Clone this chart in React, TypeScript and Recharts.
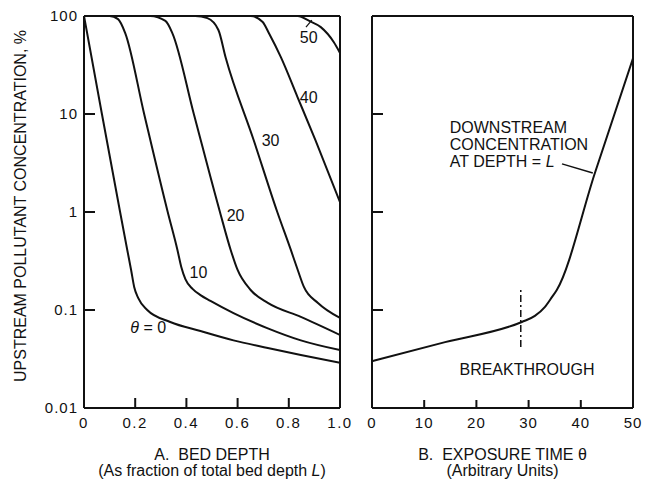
import React from "react";
import { LineChart, Line, XAxis, YAxis, ReferenceLine, ReferenceDot } from "recharts";

const FONT = "'Liberation Sans', Arial, Helvetica, sans-serif";
const INK = "#111";

// axes
const depthTicks = [0, 0.2, 0.4, 0.6, 0.8, 1.0];
const depthTickLabels = ["0", "0.2", "0.4", "0.6", "0.8", "1.0"];
const timeTicks = [0, 10, 20, 30, 40, 50];
const timeTickLabels = ["0", "10", "20", "30", "40", "50"];
const concTicks = [0.01, 0.1, 1, 10, 100];
const concTickLabels = ["0.01", "0.1", "1", "10", "100"];

type Pt = { x: number; y: number };

// panel A: upstream concentration vs bed depth, one curve per exposure time
const theta0: Pt[] = [
  { x: 0, y: 100 }, { x: 0.07, y: 10 }, { x: 0.141, y: 1 }, { x: 0.169, y: 0.41 },
  { x: 0.184, y: 0.256 }, { x: 0.196, y: 0.172 }, { x: 0.212, y: 0.132 }, { x: 0.247, y: 0.1 },
  { x: 0.337, y: 0.0755 }, { x: 0.455, y: 0.061 }, { x: 0.584, y: 0.049 }, { x: 0.718, y: 0.041 },
  { x: 0.847, y: 0.0348 }, { x: 1.0, y: 0.029 },
];
const theta10: Pt[] = [
  { x: 0, y: 100 }, { x: 0.1, y: 100 }, { x: 0.133, y: 93 }, { x: 0.161, y: 67 },
  { x: 0.235, y: 10 }, { x: 0.327, y: 1 }, { x: 0.365, y: 0.41 }, { x: 0.38, y: 0.275 },
  { x: 0.396, y: 0.207 }, { x: 0.424, y: 0.164 }, { x: 0.455, y: 0.142 }, { x: 0.494, y: 0.124 },
  { x: 0.584, y: 0.093 }, { x: 0.718, y: 0.065 }, { x: 0.847, y: 0.049 }, { x: 1.0, y: 0.039 },
];
const theta20: Pt[] = [
  { x: 0, y: 100 }, { x: 0.259, y: 100 }, { x: 0.318, y: 89 }, { x: 0.345, y: 67 },
  { x: 0.429, y: 10 }, { x: 0.531, y: 1 }, { x: 0.573, y: 0.41 }, { x: 0.6, y: 0.256 },
  { x: 0.651, y: 0.16 }, { x: 0.718, y: 0.118 }, { x: 0.847, y: 0.085 }, { x: 1.0, y: 0.0556 },
];
const theta30: Pt[] = [
  { x: 0, y: 100 }, { x: 0.435, y: 100 }, { x: 0.482, y: 95 }, { x: 0.525, y: 72 },
  { x: 0.553, y: 38 }, { x: 0.663, y: 5.4 }, { x: 0.755, y: 1 }, { x: 0.808, y: 0.41 },
  { x: 0.835, y: 0.256 }, { x: 0.859, y: 0.172 }, { x: 0.914, y: 0.118 }, { x: 1.0, y: 0.083 },
];
const theta40: Pt[] = [
  { x: 0, y: 100 }, { x: 0.651, y: 100 }, { x: 0.698, y: 87 }, { x: 0.722, y: 67 },
  { x: 0.769, y: 38 }, { x: 0.834, y: 14.9 }, { x: 0.904, y: 5.4 }, { x: 1.0, y: 1.26 },
];
const theta50: Pt[] = [
  { x: 0, y: 100 }, { x: 0.835, y: 100 }, { x: 0.88, y: 89 }, { x: 0.925, y: 77 },
  { x: 0.976, y: 54 }, { x: 1.0, y: 42 },
];
const depthSeries = [theta0, theta10, theta20, theta30, theta40, theta50];

const curveLabels = [
  { x: 0.878, y: 61, text: "50" },
  { x: 0.878, y: 14.9, text: "40" },
  { x: 0.729, y: 5.4, text: "30" },
  { x: 0.592, y: 0.93, text: "20" },
  { x: 0.447, y: 0.244, text: "10" },
  { x: 0.251, y: 0.067, text: "θ\u00a0=\u00a00" },
];
const label50Leader = [{ x: 0.867, y: 77 }, { x: 0.89, y: 91 }];

// panel B: downstream concentration vs exposure time
const downstream: Pt[] = [
  { x: 0, y: 0.03 }, { x: 14, y: 0.047 }, { x: 28.7, y: 0.0755 }, { x: 31.2, y: 0.087 },
  { x: 33.1, y: 0.107 }, { x: 34.5, y: 0.136 }, { x: 35.4, y: 0.16 }, { x: 42.7, y: 2.5 },
  { x: 50, y: 37 },
];
const breakthroughAt = 28.5;
const breakthroughSpan = [0.042, 0.172];
const noteAnchor = { x: 14.9, y: 6.4 };
const noteLines = ["DOWNSTREAM", "CONCENTRATION", "AT DEPTH = "];
const noteLeader = [{ x: 36.4, y: 3.1 }, { x: 42.3, y: 2.5 }];
const breakthroughLabel = { x: 29.7, y: 0.025 };

const textStyle = { fontFamily: FONT, fontSize: 16, fill: INK };

const DepthTick = (props: any) => {
  const { x, y, payload } = props;
  const i = depthTicks.indexOf(payload.value);
  const inner = i > 0 && i < depthTicks.length - 1;
  return (
    <g>
      {inner && <line x1={x} x2={x} y1={y} y2={y - 10} stroke={INK} strokeWidth={2} />}
      <text x={x} y={y + 20} textAnchor="middle" {...textStyle} fontSize={15} letterSpacing={1.5}>
        {depthTickLabels[i]}
      </text>
    </g>
  );
};

const TimeTick = (props: any) => {
  const { x, y, payload } = props;
  const i = timeTicks.indexOf(payload.value);
  const inner = i > 0 && i < timeTicks.length - 1;
  return (
    <g>
      {inner && <line x1={x} x2={x} y1={y} y2={y - 8} stroke={INK} strokeWidth={2} />}
      <text x={x} y={y + 20} textAnchor="middle" {...textStyle} fontSize={15} letterSpacing={1}>
        {timeTickLabels[i]}
      </text>
    </g>
  );
};

const ConcTick = (props: any) => {
  const { x, y, payload, showText } = props;
  const i = concTicks.indexOf(payload.value);
  const inner = i > 0 && i < concTicks.length - 1;
  return (
    <g>
      {inner && <line x1={x} x2={x + 11} y1={y} y2={y} stroke={INK} strokeWidth={2} />}
      {showText && (
        <text x={x - 6} y={y} dy="0.36em" textAnchor="end" {...textStyle} fontSize={15} letterSpacing={1}>
          {concTickLabels[i]}
        </text>
      )}
    </g>
  );
};

const CurveLabel = ({ viewBox, text }: any) => {
  const { x, y } = viewBox;
  if (text.startsWith("θ")) {
    return (
      <text x={x} y={y} dy="0.36em" textAnchor="middle" {...textStyle}>
        <tspan fontStyle="italic">θ</tspan>
        {text.slice(1)}
      </text>
    );
  }
  return (
    <text x={x} y={y} dy="0.36em" textAnchor="middle" {...textStyle}>
      {text}
    </text>
  );
};

const AxisTitle = (line1: React.ReactNode, line2: React.ReactNode) => (props: any) => {
  const { x, y, width } = props.viewBox;
  const cx = x + width / 2;
  return (
    <g>
      <text x={cx} y={y + 52} textAnchor="middle" {...textStyle}>{line1}</text>
      <text x={cx} y={y + 68} textAnchor="middle" {...textStyle}>{line2}</text>
    </g>
  );
};

const YTitle = (props: any) => {
  const { y, height } = props.viewBox;
  const cy = y + height / 2 - 6;
  return (
    <text transform={`translate(26, ${cy}) rotate(-90)`} textAnchor="middle" {...textStyle}>
      UPSTREAM POLLUTANT CONCENTRATION, %
    </text>
  );
};

const Note = ({ viewBox }: any) => {
  const { x, y } = viewBox;
  return (
    <text x={x} y={y} {...textStyle}>
      {noteLines.map((l, i) => (
        <tspan key={l} x={x} dy={i === 0 ? 0 : 17}>
          {l}
          {i === noteLines.length - 1 && <tspan fontStyle="italic">L</tspan>}
        </tspan>
      ))}
    </text>
  );
};

const frame = { stroke: INK, strokeWidth: 2 };

export default function App() {
  return (
    <div style={{ position: "absolute", left: 0, top: 0, width: 645, height: 481, background: "#fff" }}>
      <div style={{ position: "absolute", left: 0, top: 0 }}>
        <LineChart width={360} height={481} margin={{ top: 16, right: 20, bottom: 0, left: 0 }}>
          <XAxis
            type="number"
            dataKey="x"
            domain={[0, 1]}
            ticks={depthTicks}
            allowDataOverflow
            height={73}
            tickSize={0}
            tickMargin={0}
            tickLine={false}
            axisLine={frame}
            tick={<DepthTick />}
            label={AxisTitle("A.\u00a0 BED DEPTH", <>(As fraction of total bed depth <tspan fontStyle="italic">L</tspan>)</>)}
          />
          <YAxis
            type="number"
            scale="log"
            domain={[0.01, 100]}
            ticks={concTicks}
            allowDataOverflow
            width={84}
            tickSize={0}
            tickMargin={0}
            tickLine={false}
            axisLine={frame}
            tick={<ConcTick showText />}
            label={YTitle}
          />
          <ReferenceLine y={100} {...frame} />
          <ReferenceLine x={1} {...frame} />
          {depthSeries.map((s, i) => (
            <Line
              key={i}
              data={s}
              dataKey="y"
              type="monotone"
              stroke={INK}
              strokeWidth={2}
              dot={false}
              isAnimationActive={false}
            />
          ))}
          <ReferenceLine segment={label50Leader} stroke={INK} strokeWidth={1.2} />
          {curveLabels.map((c) => (
            <ReferenceDot
              key={c.text}
              x={c.x}
              y={c.y}
              r={0}
              fill="none"
              stroke="none"
              label={(p: any) => <CurveLabel {...p} text={c.text} />}
            />
          ))}
        </LineChart>
      </div>
      <div style={{ position: "absolute", left: 345, top: 0 }}>
        <LineChart width={300} height={481} margin={{ top: 16, right: 12, bottom: 0, left: 0 }}>
          <XAxis
            type="number"
            dataKey="x"
            domain={[0, 50]}
            ticks={timeTicks}
            allowDataOverflow
            height={73}
            tickSize={0}
            tickMargin={0}
            tickLine={false}
            axisLine={frame}
            tick={<TimeTick />}
            label={AxisTitle("B.\u00a0 EXPOSURE TIME θ", "(Arbitrary Units)")}
          />
          <YAxis
            type="number"
            scale="log"
            domain={[0.01, 100]}
            ticks={concTicks}
            allowDataOverflow
            width={27}
            tickSize={0}
            tickMargin={0}
            tickLine={false}
            axisLine={frame}
            tick={<ConcTick showText={false} />}
          />
          <ReferenceLine y={100} {...frame} />
          <ReferenceLine x={50} {...frame} />
          <Line
            data={downstream}
            dataKey="y"
            type="monotone"
            stroke={INK}
            strokeWidth={2}
            dot={false}
            isAnimationActive={false}
          />
          <ReferenceLine
            segment={[
              { x: breakthroughAt, y: breakthroughSpan[0] },
              { x: breakthroughAt, y: breakthroughSpan[1] },
            ]}
            stroke={INK}
            strokeWidth={1.5}
            strokeDasharray="7 3 2 3"
          />
          <ReferenceLine segment={noteLeader} stroke={INK} strokeWidth={1.5} />
          <ReferenceDot x={noteAnchor.x} y={noteAnchor.y} r={0} fill="none" stroke="none" label={Note} />
          <ReferenceDot
            x={breakthroughLabel.x}
            y={breakthroughLabel.y}
            r={0}
            fill="none"
            stroke="none"
            label={(p: any) => <CurveLabel {...p} text="BREAKTHROUGH" />}
          />
        </LineChart>
      </div>
    </div>
  );
}
